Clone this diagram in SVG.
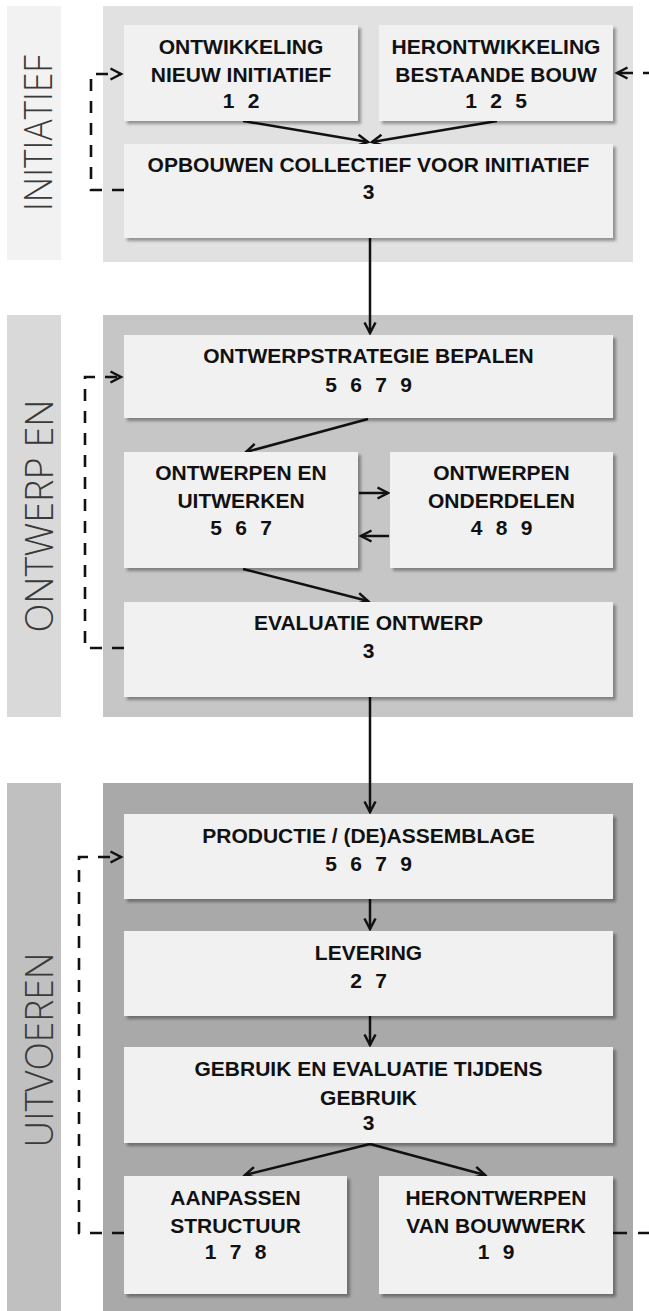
<svg xmlns="http://www.w3.org/2000/svg" width="649" height="1311" viewBox="0 0 649 1311">
  <style>
    .node rect { fill: #f1f1f1; filter: url(#shadow); }
    .node text { font-family: "Liberation Sans", Arial, sans-serif; font-weight: bold; font-size: 21px; fill: #111; text-anchor: middle; }
    .node text.num { word-spacing: 7.5px; }
    .phase { font-family: "Open Sans", "Liberation Sans", Arial, sans-serif; font-weight: 300; font-size: 39px; fill: #3a3a3a; text-anchor: middle; }
    .flow { fill: none; stroke: #111; stroke-width: 2.5; marker-end: url(#arrow); }
    .loop { fill: none; stroke: #111; stroke-width: 2.6; stroke-dasharray: 12 10; }
  </style>
  <defs>
    <filter id="shadow" x="-5%" y="-5%" width="115%" height="125%">
      <feDropShadow dx="3" dy="3" stdDeviation="1.6" flood-color="#000" flood-opacity="0.35"/>
    </filter>
    <marker id="arrow" markerUnits="userSpaceOnUse" markerWidth="16" markerHeight="16" refX="12" refY="7" orient="auto">
      <path d="M1.5,1.5 L12,7 L1.5,12.5" fill="none" stroke="#111" stroke-width="2.5"/>
    </marker>
  </defs>

  <!-- phase bands -->
  <g id="phase-initiatief">
    <rect x="7" y="6" width="54" height="254" fill="#f2f2f2"/>
    <rect x="103" y="6" width="530" height="256" fill="#e1e1e1"/>
    <text class="phase" transform="translate(52,133) rotate(-90)" textLength="156" lengthAdjust="spacingAndGlyphs">INITIATIEF</text>
  </g>
  <g id="phase-ontwerp">
    <rect x="7" y="315" width="54" height="402" fill="#d9d9d9"/>
    <rect x="103" y="315" width="530" height="402" fill="#c6c6c6"/>
    <text class="phase" transform="translate(53,516) rotate(-90)" textLength="233" lengthAdjust="spacingAndGlyphs">ONTWERP EN</text>
  </g>
  <g id="phase-uitvoeren">
    <rect x="7" y="783" width="54" height="528" fill="#c0c0c0"/>
    <rect x="103" y="783" width="530" height="528" fill="#a9a9a9"/>
    <text class="phase" transform="translate(53,1050) rotate(-90)" textLength="195" lengthAdjust="spacingAndGlyphs">UITVOEREN</text>
  </g>

  <!-- connectors -->
  <g id="connectors">
    <path class="flow" d="M243,121 L368,142"/>
    <path class="flow" d="M497,121 L372,142"/>
    <path class="flow" d="M370,238 V333"/>
    <path class="flow" d="M368,419 L246,452"/>
    <path class="flow" d="M359,493 H388"/>
    <path class="flow" d="M389,536 H361"/>
    <path class="flow" d="M243,569 L368,601"/>
    <path class="flow" d="M370,697 V812"/>
    <path class="flow" d="M370,899 V929"/>
    <path class="flow" d="M370,1016 V1045"/>
    <path class="flow" d="M370,1144 L245,1175"/>
    <path class="flow" d="M370,1144 L485,1175"/>
    <path class="loop" d="M124,190 H91 V74 H121" marker-end="url(#arrow)"/>
    <path class="loop" d="M649,73 H617" style="stroke-dasharray: 6 10 20" marker-end="url(#arrow)"/>
    <path class="loop" d="M124,648 H85 V377 H121" marker-end="url(#arrow)"/>
    <path class="loop" d="M124,1233 H79 V857 H121" marker-end="url(#arrow)"/>
    <path class="loop" d="M613,1233 H649" style="stroke-dasharray: 14 11"/>
  </g>

  <!-- nodes -->
  <g id="n-nieuw" class="node">
    <rect x="124" y="25" width="234" height="96"/>
    <text x="241" y="54">ONTWIKKELING</text>
    <text x="241" y="82">NIEUW INITIATIEF</text>
    <text class="num" x="241" y="108">1 2</text>
  </g>
  <g id="n-bestaand" class="node">
    <rect x="379" y="25" width="234" height="96"/>
    <text x="496" y="54">HERONTWIKKELING</text>
    <text x="496" y="82">BESTAANDE BOUW</text>
    <text class="num" x="496" y="108">1 2 5</text>
  </g>
  <g id="n-collectief" class="node">
    <rect x="124" y="144" width="489" height="94"/>
    <text x="368.5" y="172">OPBOUWEN COLLECTIEF VOOR INITIATIEF</text>
    <text x="368.5" y="199">3</text>
  </g>
  <g id="n-strategie" class="node">
    <rect x="124" y="335" width="489" height="83"/>
    <text x="368.5" y="363">ONTWERPSTRATEGIE BEPALEN</text>
    <text class="num" x="368.5" y="392">5 6 7 9</text>
  </g>
  <g id="n-uitwerken" class="node">
    <rect x="124" y="452" width="234" height="116"/>
    <text x="241" y="480">ONTWERPEN EN</text>
    <text x="241" y="508">UITWERKEN</text>
    <text class="num" x="241" y="535">5 6 7</text>
  </g>
  <g id="n-onderdelen" class="node">
    <rect x="390" y="452" width="223" height="116"/>
    <text x="501.5" y="480">ONTWERPEN</text>
    <text x="501.5" y="508">ONDERDELEN</text>
    <text class="num" x="501.5" y="535">4 8 9</text>
  </g>
  <g id="n-evaluatie" class="node">
    <rect x="124" y="602" width="489" height="95"/>
    <text x="368.5" y="630">EVALUATIE ONTWERP</text>
    <text x="368.5" y="658">3</text>
  </g>
  <g id="n-productie" class="node">
    <rect x="124" y="814" width="489" height="85"/>
    <text x="368.5" y="843">PRODUCTIE / (DE)ASSEMBLAGE</text>
    <text class="num" x="368.5" y="871">5 6 7 9</text>
  </g>
  <g id="n-levering" class="node">
    <rect x="124" y="931" width="489" height="85"/>
    <text x="368.5" y="960">LEVERING</text>
    <text class="num" x="368.5" y="988">2 7</text>
  </g>
  <g id="n-gebruik" class="node">
    <rect x="124" y="1047" width="489" height="96"/>
    <text x="368.5" y="1076">GEBRUIK EN EVALUATIE TIJDENS</text>
    <text x="368.5" y="1105">GEBRUIK</text>
    <text x="368.5" y="1130">3</text>
  </g>
  <g id="n-aanpassen" class="node">
    <rect x="124" y="1176" width="223" height="118"/>
    <text x="235.5" y="1205">AANPASSEN</text>
    <text x="235.5" y="1233">STRUCTUUR</text>
    <text class="num" x="235.5" y="1259">1 7 8</text>
  </g>
  <g id="n-herontwerpen" class="node">
    <rect x="379" y="1176" width="234" height="118"/>
    <text x="496" y="1205">HERONTWERPEN</text>
    <text x="496" y="1233">VAN BOUWWERK</text>
    <text class="num" x="496" y="1259">1 9</text>
  </g>
</svg>
